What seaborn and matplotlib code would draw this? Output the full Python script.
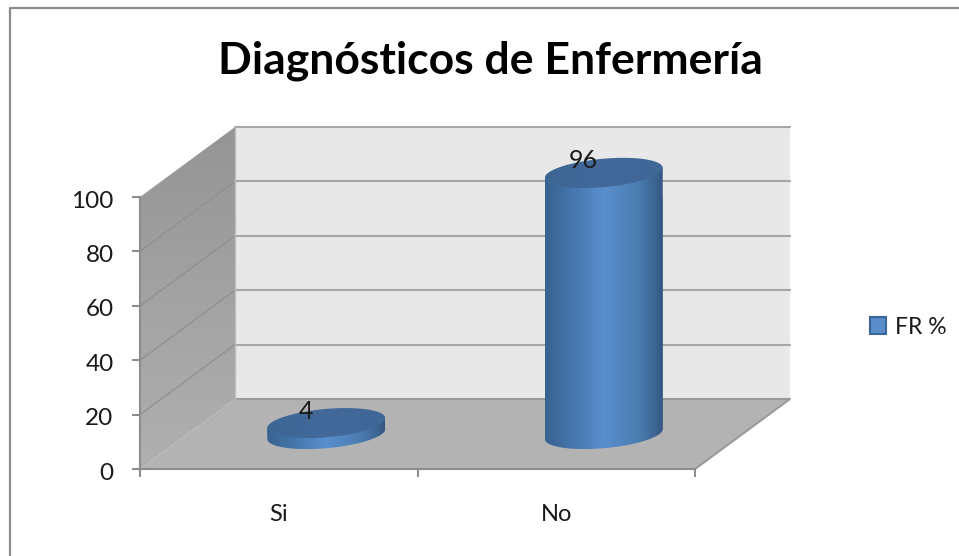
import numpy as np
import pandas as pd
import seaborn as sns
import matplotlib
matplotlib.use("Agg")
from matplotlib import pyplot as plt
from matplotlib.colors import LinearSegmentedColormap
from matplotlib.lines import Line2D
from matplotlib.patches import Patch, Polygon
from matplotlib.transforms import Affine2D, IdentityTransform

categories = ["Si", "No"]
values = [4, 96]
series_name = "FR %"
y_ticks = [0, 20, 40, 60, 80, 100]
title = "Diagnósticos de Enfermería"

sns.set_style("white")
plt.rcParams["font.family"] = ["Lato", "DejaVu Sans"]

W, H = 959, 556
TXT = "#1a1a1a"
EDGE = "#999999"
DEPTH = np.array([95.0, 70.0])  # pixels the floor runs back

fig = plt.figure(figsize=(W / 100, H / 100), dpi=100, facecolor="white")
ax = fig.add_axes([140 / W, (H - 469) / H, 555 / W, 272 / H])
ax.patch.set_visible(False)

df = pd.DataFrame({"cat": categories, "val": values})
sns.barplot(data=df, x="cat", y="val", width=0.425, color="#4a7ab5", ax=ax, zorder=3)
ax.set_xlim(-0.5, 1.5)
ax.set_ylim(0, 100)
ax.autoscale(False)
ident = IdentityTransform()


def pt(x, y, d=0.0):
    return ax.transData.transform((x, y)) + d * DEPTH


def shaded(poly, colors, vertical=False, z=1):
    poly = np.asarray(poly)
    cmap = LinearSegmentedColormap.from_list("", colors)
    grad = np.linspace(0, 1, 256)
    arr = grad[:, None] if vertical else grad[None, :]
    x0, y0 = poly.min(axis=0)
    x1, y1 = poly.max(axis=0)
    im = ax.imshow(arr, cmap=cmap, aspect="auto", extent=(x0, x1, y0, y1),
                   transform=ident, zorder=z, interpolation="bilinear")
    clip = Polygon(poly, closed=True, transform=ident, facecolor="none", edgecolor="none")
    ax.add_patch(clip)
    im.set_clip_box(fig.bbox)
    im.set_clip_path(clip)
    return clip


def flat(poly, color, z=1):
    ax.add_patch(Polygon(poly, closed=True, transform=ident, facecolor=color, edgecolor="none",
                         linewidth=0, zorder=z, clip_on=False))


def line(points, color=EDGE, lw=1.5, z=1.5):
    pts = np.array(points)
    ax.add_line(Line2D(pts[:, 0], pts[:, 1], transform=ident, color=color, lw=lw, zorder=z, clip_on=False))


# walls and floor
x_lo, x_hi = ax.get_xlim()
y_lo, y_hi = ax.get_ylim()
flat([pt(x_lo, y_lo, 1), pt(x_hi, y_lo, 1), pt(x_hi, y_hi, 1), pt(x_lo, y_hi, 1)], "#e8e8e8", z=0.5)
shaded([pt(x_lo, y_lo), pt(x_lo, y_lo, 1), pt(x_lo, y_hi, 1), pt(x_lo, y_hi)],
       ["#959595", "#b0b0b0"], vertical=True, z=0.6)
flat([pt(x_lo, y_lo), pt(x_hi, y_lo), pt(x_hi, y_lo, 1), pt(x_lo, y_lo, 1)], "#b3b3b3", z=0.7)

for v in y_ticks[1:]:
    line([pt(x_lo, v, 1), pt(x_hi, v, 1)], color="#a6a6a6")
    if v < 100:
        line([pt(x_lo, v), pt(x_lo, v, 1)], color="#8f8f8f", lw=0.9)
line([pt(x_lo, 0, 1), pt(x_hi, 0, 1), pt(x_hi, 0)], color="#9a9a9a")
line([pt(x_lo, 100, 1), pt(x_lo, 0, 1)], color="#bdbdbd", lw=1)

# cylinders, placed from the seaborn bars
side_cols = [(0, "#38628f"), (0.2, "#4373a8"), (0.5, "#5a8fce"), (0.8, "#4a7cb0"), (0.95, "#3a628f"), (1, "#34557f")]
shift = Affine2D().translate(*(DEPTH / 2))
TILT, FLAT_B = 5.0, 14.2


def rim(cx, cy, a, t):
    return np.column_stack([cx + a * np.cos(t), cy + FLAT_B * np.sin(t) + TILT * np.cos(t)])


for bar, val in zip(ax.patches, values):
    if not isinstance(bar, matplotlib.patches.Rectangle) or bar.get_width() > 1:
        continue
    bar.set_transform(ax.transData + shift)
    bar.set_zorder(2.9)
    bar.set_edgecolor("none")
    xc = bar.get_x() + bar.get_width() / 2
    base = pt(xc, 0, 0.5)
    top = pt(xc, val, 0.5)
    half = (pt(xc + bar.get_width() / 2, 0)[0] - pt(xc, 0)[0])
    low = rim(base[0], base[1], half, np.linspace(np.pi, 2 * np.pi, 60))
    body = np.vstack([low, rim(top[0], top[1], half, np.array([0.0, np.pi]))])
    bar.set_clip_path(shaded(body, side_cols, z=3))
    cap = rim(top[0], top[1], half, np.linspace(0, 2 * np.pi, 120))
    shaded(cap, ["#3d6695", "#42699a", "#3f6797"], z=3.2)
    lab = top + np.array([-20, 12])
    ax.text(lab[0], lab[1], str(val), transform=ident, ha="center", va="center",
            fontsize=18, color=TXT, zorder=5, clip_on=False)

# axes
for s in ["top", "right"]:
    ax.spines[s].set_visible(False)
for s in ["left", "bottom"]:
    ax.spines[s].set_color("#8c8c8c")
    ax.spines[s].set_linewidth(1.5)
    ax.spines[s].set_zorder(2)
ax.set_yticks(y_ticks)
ax.set_xlabel("")
ax.set_ylabel("")
ax.tick_params(axis="y", left=True, length=6, width=1.5, color="#8c8c8c", pad=13,
               labelsize=17.5, labelcolor=TXT)
ax.set_xticks([-0.5, 0.5, 1.5], minor=True)
ax.tick_params(axis="x", which="minor", bottom=True, length=6, width=1.5, color="#8c8c8c")
ax.tick_params(axis="x", which="major", bottom=False, length=0, pad=25, labelsize=17, labelcolor=TXT)
for lbl in ax.get_yticklabels():
    lbl.set_transform(lbl.get_transform() + Affine2D().translate(0, -2))

fig.text(490 / W, 1 - 61 / H, title, ha="center", va="center", fontsize=32,
         fontweight="bold", color="black")

leg = fig.legend(handles=[Patch(facecolor="#5a8ccb", edgecolor="#3b6595", linewidth=1.5, label=series_name)],
                 loc="center left", bbox_to_anchor=(870 / W, 1 - 327 / H), frameon=False,
                 fontsize=16.5, handlelength=0.7, handleheight=0.7, handletextpad=0.4,
                 borderpad=0, borderaxespad=0)
for t in leg.get_texts():
    t.set_color(TXT)

# chart area frame, left and top sides only
fig.add_artist(Line2D([9.5 / W, 9.5 / W, 1], [0, 1 - 7.5 / H, 1 - 7.5 / H], transform=fig.transFigure,
                      color="#8c8c8c", lw=1.6))

fig.savefig("out.png", dpi=100)
